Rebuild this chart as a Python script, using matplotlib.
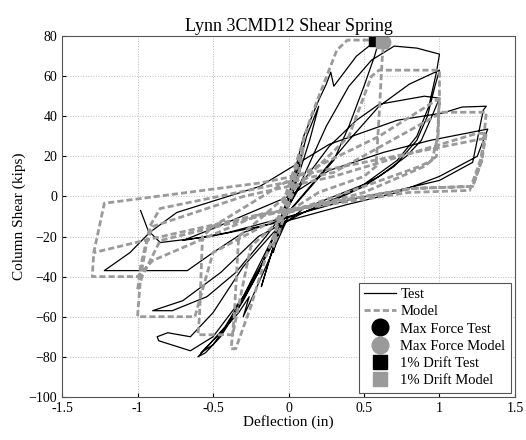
import matplotlib
matplotlib.use("Agg")
import matplotlib.pyplot as plt
from matplotlib.lines import Line2D

plt.rcParams['font.family'] = ['Liberation Serif', 'DejaVu Serif']

# Test hysteresis path (deflection in, shear kips)
test_x = [0, 0.05, 0.1, 0.06, -0.04, -0.1, -0.06, 0.04, 0.12, 0.2, 0.14, 0.0, -0.1, -0.18, -0.12, 0.0,
          0.1, 0.2, 0.25, 0.28, 0.3, 0.35, 0.45, 0.55, 0.6,
          0.57, 0.5, 0.4, 0.3, 0.15, 0.0,
          -0.1, -0.2, -0.3, -0.42, -0.55, -0.6,
          -0.55, -0.45, -0.3, -0.2, -0.1, 0.0,
          0.1, 0.25, 0.4, 0.55, 0.7, 0.85, 1.0,
          0.98, 0.93, 0.85, 0.72, 0.5, 0.3, 0.1,
          -0.1, -0.3, -0.5, -0.65, -0.8, -0.87, -0.86, -0.65, -0.5, -0.3, -0.15, 0.0,
          -0.12, -0.25, -0.3, -0.26, -0.33, -0.45, -0.58, -0.5, -0.35, -0.2, -0.05,
          0.2, 0.4, 0.6, 0.8, 1.0,
          0.97, 0.92, 0.85, 0.7, 0.5, 0.3, 0.1,
          -0.2, -0.45, -0.7, -0.9, -0.77, -0.54, -0.35, -0.15, 0.0,
          0.1, 0.27, 0.45, 0.6, 0.9, 1.0,
          0.95, 0.88, 0.78, 0.6, 0.4, 0.1,
          -0.3, -0.5, -0.67, -1.22, -1.05, -0.92, -0.74, -0.19, 0.27, 0.72, 1.02, 1.15, 1.31,
          1.29, 1.22, 1.0, 0.72, 0.41, 0.0, -0.4, -0.7, -0.5, 0.0,
          0.27, 0.63, 0.94, 1.32, 1.25, 1.0, 0.72, 0.39, 0.0, -0.52, -0.85, -0.93, -0.98]
test_y = [0, 12, 25, 10, -10, -28, -12, 8, 30, 45, 28, -5, -25, -45, -30, 0,
          30, 48, 56, 62, 55, 60, 70, 76, 78,
          70, 55, 35, 18, 5, -8,
          -20, -35, -50, -65, -76, -80,
          -78, -70, -52, -38, -20, -5,
          10, 35, 55, 68, 75, 74, 71,
          62, 45, 30, 18, 6, 0, -6,
          -18, -35, -58, -70, -68, -70, -72, -77, -70, -50, -30, -10,
          -30, -52, -60, -50, -58, -68, -78, -74, -58, -38, -12,
          10, 28, 45, 56, 63,
          55, 40, 28, 15, 5, -2, -8,
          -20, -38, -52, -57, -57, -50, -38, -20, -5,
          8, 25, 38, 46, 50, 49,
          40, 28, 20, 10, 2, -8,
          -18, -28, -37, -37, -28, -18, -8, 5, 26, 38, 41.6, 44.6, 45,
          43, 17, 8, 3, -1.5, -10, -18, -22, -16, 0,
          13, 22, 28, 33.6, 20, 10, 2, -4, -12, -20, -23, -17, -7]

# Model hysteresis path
model_x = [0, 0.05, 0.02, -0.05, -0.02, 0.1, 0.06, -0.1, -0.06, 0.0,
           0.15, 0.32, 0.39, 0.63,
           0.62, 0.6, 0.58, 0.5, 0.2, -0.05,
           -0.15, -0.25, -0.35, -0.38, -0.36, -0.33, -0.2, 0.1, 0.4,
           0.55, 0.6, 1.0,
           1.0, 0.98, 0.9, 0.5, 0.0, -0.25,
           -0.37, -0.6, -0.59, -0.57, -0.5, 0.0, 0.6,
           1.0, 0.99, 0.95, 0.87, 0.5, 0.0, -0.5,
           -0.62, -1.0, -0.98, -0.92, -0.85, -0.27, 0.3,
           1.02, 1.31, 1.28, 1.22, 0.82, 0.27, -0.2, -0.85,
           -0.97, -1.0, -0.98, -0.95, -0.9, -0.3, 0.3,
           1.25, 1.31, 1.28, 1.22, 0.82, 0.27, -0.19, -0.9,
           -1.0, -1.3, -1.29, -1.22, -0.19, 0.5, 1.0, 1.3, 1.27, 1.2, 0.8, 0.27, -0.19, -0.9, -1.29]
model_y = [0, 12, 3, -12, -3, 25, 8, -25, -8, 5,
           40, 73, 78, 78,
           68, 40, 15, 10, 2, -10,
           -30, -55, -76, -76, -60, -20, -12, 8, 30,
           60, 63, 63,
           50, 20, 15, 2, -8, -25,
           -69, -69, -60, -20, -15, 8, 30,
           49, 30, 18, 15, 5, -8, -28,
           -60, -60, -40, -15, -6, 3, 12,
           42, 42, 18, 5, 4, -3, -10, -22,
           -40, -47, -35, -25, -15, 0, 10,
           31.5, 31.5, 18, 5, 4, -3, -9, -32,
           -40, -40, -28, -3.4, 6.7, 17, 24.5, 29, 18, 3, 2, -4, -9, -21, -28]

# Key points
max_test = (0.60, 79)
max_model = (0.63, 77)
drift_test = (0.57, 78)
drift_model = (0.62, 77)

fig = plt.figure(figsize=(5.26, 4.40), dpi=100)
ax = fig.add_axes([0.118, 0.098, 0.861, 0.820])

ax.plot(test_x, test_y, color='black', lw=0.9, label='Test')
ax.plot(model_x, model_y, color='#9a9a9a', lw=2.0, ls=(0, (2.2, 1.1)), label='Model')
ax.plot(*drift_test, marker='s', color='black', ms=8, ls='none', label='_a')
ax.plot(*max_test, marker='o', color='black', ms=9, ls='none', label='_b')
ax.plot(*max_model, marker='o', color='#9a9a9a', ms=9, ls='none', label='_c')
ax.plot(*drift_model, marker='s', color='#9a9a9a', ms=8, ls='none', label='_d')

ax.set_xlim(-1.5, 1.5)
ax.set_ylim(-100, 80)
ax.set_xticks([-1.5, -1, -0.5, 0, 0.5, 1, 1.5])
ax.set_xticklabels(['-1.5', '-1', '-0.5', '0', '0.5', '1', '1.5'])
ax.set_yticks(range(-100, 81, 20))
ax.tick_params(direction='in', labelsize=10, length=3)
ax.grid(True, ls=':', color='#bbbbbb', lw=0.7)
for s in ax.spines.values():
    s.set_color('#555555')
    s.set_linewidth(0.8)

ax.set_title('Lynn 3CMD12 Shear Spring', fontsize=13, pad=4)
ax.set_xlabel('Deflection (in)', fontsize=11, labelpad=0)
ax.set_ylabel('Column Shear (kips)', fontsize=11, labelpad=2)

handles = [
    Line2D([], [], color='black', lw=0.9),
    Line2D([], [], color='#9a9a9a', lw=2.0, ls=(0, (2.2, 1.1))),
    Line2D([], [], marker='o', color='black', ms=12, ls='none'),
    Line2D([], [], marker='o', color='#9a9a9a', ms=12, ls='none'),
    Line2D([], [], marker='s', color='black', ms=10, ls='none'),
    Line2D([], [], marker='s', color='#9a9a9a', ms=10, ls='none'),
]
labels = ['Test', 'Model', 'Max Force Test', 'Max Force Model', '1% Drift Test', '1% Drift Model']
leg = ax.legend(handles, labels, loc='lower right', fontsize=10.5, fancybox=False,
                edgecolor='#555555', framealpha=1, handlelength=2.2, handletextpad=0.3,
                labelspacing=0.28, borderpad=0.35, borderaxespad=0.3)
leg.get_frame().set_linewidth(0.8)

fig.savefig('out.png', dpi=100)
